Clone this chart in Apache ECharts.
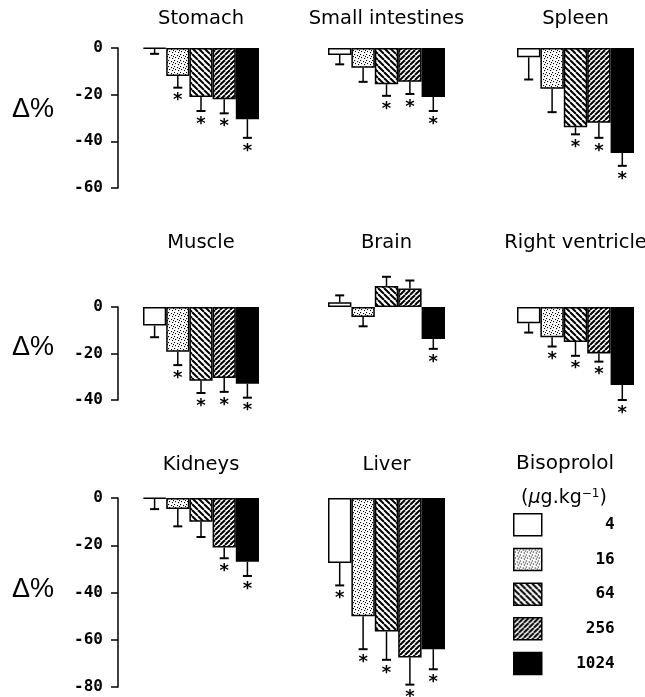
<!DOCTYPE html>
<html><head><meta charset="utf-8">
<script src="https://cdn.jsdelivr.net/npm/echarts@6/dist/echarts.min.js"></script>
<style>html,body{margin:0;padding:0;background:#fff}#c{width:645px;height:697px}</style>
</head><body><div id="c"></div>
<script>
// ---------- data ----------
const organs = ['Stomach', 'Small intestines', 'Spleen', 'Muscle', 'Brain', 'Right ventricle', 'Kidneys', 'Liver'];
const doses = ['4', '16', '64', '256', '1024'];
const legendTitle = 'Bisoprolol';
const yLabel = 'Δ%';

const stomachMean = [-0.3, -12, -21, -22, -30.5];
const stomachErr  = [2.2, 5, 6, 6, 8];
const stomachSig  = [0, 1, 1, 1, 1];

const intestMean = [-3, -8.5, -15.5, -14.5, -21];
const intestErr  = [4, 6, 5, 5.2, 6];
const intestSig  = [0, 0, 1, 1, 1];

const spleenMean = [-4, -17.5, -34, -32, -45];
const spleenErr  = [9.5, 10, 3, 6.5, 5.5];
const spleenSig  = [0, 0, 1, 1, 1];

const muscleMean = [-8, -19.3, -31.7, -30.5, -33];
const muscleErr  = [5, 5.7, 5.3, 6, 6];
const muscleSig  = [0, 1, 1, 1, 1];

const brainMean = [2, -4.3, 9, 8, -13.8];
const brainErr  = [3, 4, 4, 3.4, 4.2];
const brainSig  = [0, 0, 0, 0, 1];

const rvMean = [-7, -13, -15, -20, -33.5];
const rvErr  = [4, 4, 6, 3.5, 6.5];
const rvSig  = [0, 1, 1, 1, 1];

const kidneyMean = [-0.3, -4.7, -10, -21, -27];
const kidneyErr  = [4.4, 7.3, 6.5, 4.5, 6];
const kidneySig  = [0, 0, 0, 1, 1];

const liverMean = [-27.5, -50, -56.5, -67.5, -64];
const liverErr  = [9.5, 14, 12, 11.5, 8.5];
const liverSig  = [1, 1, 1, 1, 1];

const yRanges = [[-60, 0], [-60, 0], [-60, 0], [-40, 0], [-40, 20], [-40, 0], [-80, 0], [-80, 0]];
const yInterval = 20;

const means = [stomachMean, intestMean, spleenMean, muscleMean, brainMean, rvMean, kidneyMean, liverMean];
const errs  = [stomachErr, intestErr, spleenErr, muscleErr, brainErr, rvErr, kidneyErr, liverErr];
const sigs  = [stomachSig, intestSig, spleenSig, muscleSig, brainSig, rvSig, kidneySig, liverSig];

// ---------- layout ----------
const colLeft = [143, 328, 517];
const colWidth = [116, 117, 117];
const rowZero = [48, 307, 498];
const rowPpu = [140 / 60, 93 / 40, 189 / 80];
const panelPos = [[0,0],[0,1],[0,2],[1,0],[1,1],[1,2],[2,0],[2,1]];

// ---------- patterns ----------
function makeCanvas(n, draw) {
  const c = document.createElement('canvas');
  c.width = n; c.height = n;
  const ctx = c.getContext('2d');
  ctx.fillStyle = '#fff'; ctx.fillRect(0, 0, n, n);
  draw(ctx, n);
  return c;
}
const dotCanvas = makeCanvas(6, (ctx) => {
  ctx.fillStyle = '#000';
  [[0,0],[3,1],[1,3],[4,4],[5,2]].forEach(p => ctx.fillRect(p[0], p[1], 1.1, 1.1));
});
const backCanvas = makeCanvas(6, (ctx, n) => {
  ctx.strokeStyle = '#000'; ctx.lineWidth = 2;
  for (let k = -n; k <= n; k += n) { ctx.beginPath(); ctx.moveTo(k, 0); ctx.lineTo(k + n, n); ctx.stroke(); }
});
const fwdCanvas = makeCanvas(5, (ctx, n) => {
  ctx.strokeStyle = '#000'; ctx.lineWidth = 2;
  for (let k = -n; k <= n; k += n) { ctx.beginPath(); ctx.moveTo(k, n); ctx.lineTo(k + n, 0); ctx.stroke(); }
});
const fills = [
  '#ffffff',
  { image: dotCanvas, repeat: 'repeat' },
  { image: backCanvas, repeat: 'repeat' },
  { image: fwdCanvas, repeat: 'repeat' },
  '#000000'
];

// ---------- build option ----------
const numFont = 'DejaVu Sans Mono';
const titleFont = 'DejaVu Sans';
const grids = [], xAxes = [], yAxes = [], series = [], graphics = [];

organs.forEach((org, g) => {
  const [r, c] = panelPos[g];
  const [ymin, ymax] = yRanges[g];
  const ppu = rowPpu[r];
  grids.push({ left: colLeft[c], width: colWidth[c], top: rowZero[r] - ymax * ppu, height: (ymax - ymin) * ppu, containLabel: false });
  xAxes.push({ type: 'category', gridIndex: g, data: [org], show: false });
  const showAxis = c === 0;
  yAxes.push({
    type: 'value', gridIndex: g, min: ymin, max: ymax, interval: yInterval,
    show: showAxis, position: 'left', offset: 25,
    axisLine: { show: true, onZero: false, lineStyle: { color: '#000', width: 1.5 } },
    axisTick: { show: true, length: 7, lineStyle: { color: '#000', width: 1.5 } },
    axisLabel: { margin: 15, color: '#000', fontFamily: numFont, fontWeight: 'bold', fontSize: 16,
      formatter: v => v === 0 ? '0' : (v < 0 ? '-' + Math.abs(v) : String(v)) },
    splitLine: { show: false }
  });
  doses.forEach((d, i) => {
    series.push({
      name: d, type: 'bar', xAxisIndex: g, yAxisIndex: g,
      data: [means[g][i]], barGap: '0%', barCategoryGap: '0%',
      itemStyle: { color: fills[i], borderColor: '#000', borderWidth: 1.5 },
      silent: true, animation: false
    });
  });
  series.push({
    type: 'custom', xAxisIndex: g, yAxisIndex: g, z: 5, silent: true, animation: false,
    encode: { x: 0, y: 1 },
    data: doses.map((d, i) => [0, means[g][i], errs[g][i], sigs[g][i], i]),
    renderItem: (params, api) => {
      const i = api.value(4), mean = api.value(1), err = api.value(2), sig = api.value(3);
      const bw = api.size([1, 0])[0] / 5;
      const c0 = api.coord([0, mean]);
      const x = c0[0] - 2.5 * bw + (i + 0.5) * bw;
      const end = mean < 0 ? mean - err : mean + err;
      const y1 = api.coord([0, end])[1];
      const ch = [
        { type: 'line', shape: { x1: x, y1: c0[1], x2: x, y2: y1 }, style: { stroke: '#000', lineWidth: 1.5 } },
        { type: 'line', shape: { x1: x - 4.5, y1: y1, x2: x + 4.5, y2: y1 }, style: { stroke: '#000', lineWidth: 2 } }
      ];
      if (sig) ch.push({ type: 'text', style: { text: '*', x: x, y: y1 + 13, align: 'center', verticalAlign: 'middle', font: 'bold 18px "DejaVu Sans"', fill: '#000' } });
      return { type: 'group', children: ch };
    }
  });
  const cx = colLeft[c] + colWidth[c] / 2;
  graphics.push({ type: 'text', x: cx, y: [19, 242.5, 465][r], style: { text: org, font: '19.5px "DejaVu Sans"', fill: '#000', align: 'center', verticalAlign: 'middle' } });
});

[110, 348, 590].forEach(y => {
  graphics.push({ type: 'text', x: 12, y: y, style: { text: yLabel, font: '27px "Liberation Sans"', fill: '#000', align: 'left', verticalAlign: 'middle' } });
});
graphics.push({ type: 'text', x: 565, y: 463.5, style: { text: legendTitle, font: '20px "DejaVu Sans"', fill: '#000', align: 'center', verticalAlign: 'middle' } });
graphics.push({ type: 'text', x: 564, y: 498, style: {
  text: '{a|(}{m|μ}{a|g.kg}{s|−1}{a|)}', align: 'center', verticalAlign: 'middle',
  rich: {
    a: { fontFamily: titleFont, fontSize: 19, color: '#000' },
    m: { fontFamily: titleFont, fontSize: 19, fontStyle: 'italic', color: '#000' },
    s: { fontFamily: titleFont, fontSize: 12, color: '#000', verticalAlign: 'top', padding: [0, 0, 8, 0] }
  } } });

const option = {
  animation: false,
  grid: grids, xAxis: xAxes, yAxis: yAxes, series: series,
  legend: {
    data: doses, orient: 'vertical', left: 513, top: 513, padding: 0,
    itemWidth: 28, itemHeight: 22, itemGap: 11.2, icon: 'rect',
    itemStyle: { borderColor: '#000', borderWidth: 1.5 },
    selectedMode: false,
    formatter: n => '{v|' + n + '}',
    textStyle: { rich: { v: { width: 68, align: 'right', fontFamily: numFont, fontWeight: 'bold', fontSize: 16, color: '#000' } } }
  },
  graphic: graphics
};
const chart = echarts.init(document.getElementById('c'), null, { renderer: 'canvas' });
chart.setOption(option);
</script></body></html>
